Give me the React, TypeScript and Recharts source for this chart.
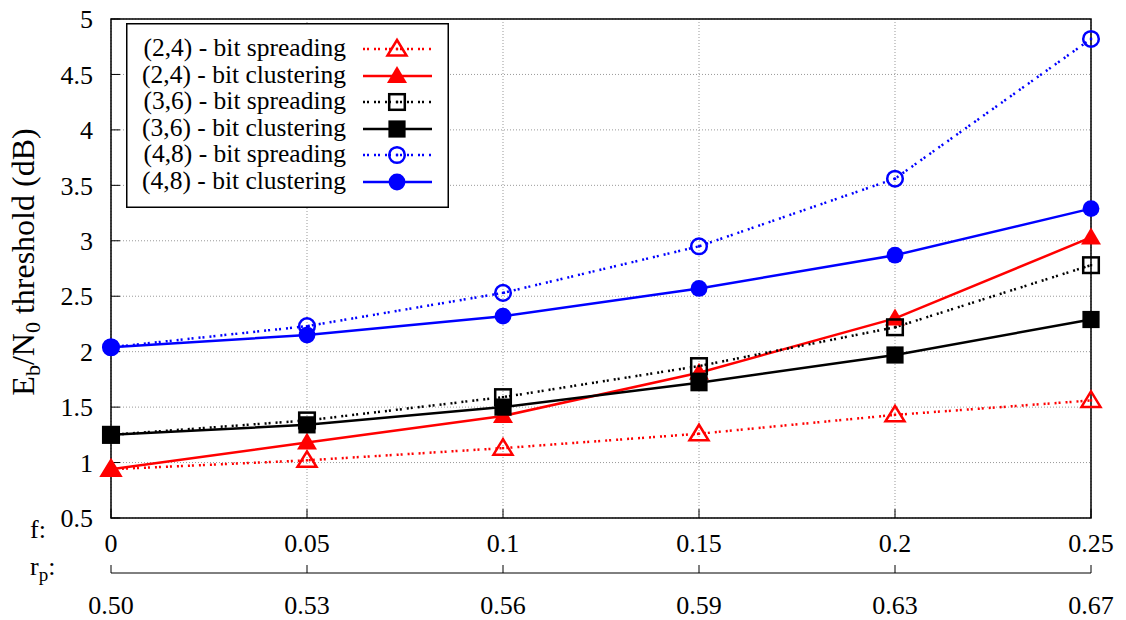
import { CartesianGrid, Label, Line, LineChart, ReferenceArea, XAxis, YAxis } from "recharts";

// ── data ────────────────────────────────────────────────────────────────────

const fValues = [0, 0.05, 0.1, 0.15, 0.2, 0.25];
const rpLabels = ["0.50", "0.53", "0.56", "0.59", "0.63", "0.67"];
const yTicks = [0.5, 1, 1.5, 2, 2.5, 3, 3.5, 4, 4.5, 5];

const spread24 = [0.94, 1.02, 1.13, 1.26, 1.43, 1.56];
const cluster24 = [0.94, 1.18, 1.42, 1.81, 2.3, 3.03];
const spread36 = [1.25, 1.38, 1.59, 1.87, 2.22, 2.78];
const cluster36 = [1.25, 1.34, 1.5, 1.72, 1.97, 2.29];
const spread48 = [2.04, 2.23, 2.53, 2.95, 3.56, 4.82];
const cluster48 = [2.04, 2.15, 2.32, 2.57, 2.87, 3.29];

// ── series ──────────────────────────────────────────────────────────────────

type MarkerKind = "triangle" | "square" | "circle";

interface Series {
  key: string;
  name: string;
  color: string;
  dotted: boolean;
  marker: MarkerKind;
  values: number[];
}

const series: Series[] = [
  { key: "s24", name: "(2,4) - bit spreading", color: "#ff0000", dotted: true, marker: "triangle", values: spread24 },
  { key: "c24", name: "(2,4) - bit clustering", color: "#ff0000", dotted: false, marker: "triangle", values: cluster24 },
  { key: "s36", name: "(3,6) - bit spreading", color: "#000000", dotted: true, marker: "square", values: spread36 },
  { key: "c36", name: "(3,6) - bit clustering", color: "#000000", dotted: false, marker: "square", values: cluster36 },
  { key: "s48", name: "(4,8) - bit spreading", color: "#0000ff", dotted: true, marker: "circle", values: spread48 },
  { key: "c48", name: "(4,8) - bit clustering", color: "#0000ff", dotted: false, marker: "circle", values: cluster48 },
];

const data = fValues.map((f, i) => {
  const row: Record<string, number> = { f };
  series.forEach((s) => (row[s.key] = s.values[i]));
  return row;
});

const FONT = '"Liberation Serif", "Times New Roman", Times, "DejaVu Serif", serif';
const DOTS = "2 2 2 5";
const LINE_W = 2.5;

// ── markers ─────────────────────────────────────────────────────────────────

// open markers are hollow with a tiny centre dot, closed ones are solid
function Marker({ kind, open, color, cx, cy }: { kind: MarkerKind; open: boolean; color: string; cx: number; cy: number }) {
  const fill = open ? "none" : color;
  const stroke = color;
  const sw = open ? LINE_W : 0;
  let shape;
  if (kind === "triangle") {
    const pts = open
      ? `${cx},${cy - 9} ${cx - 9.5},${cy + 6.5} ${cx + 9.5},${cy + 6.5}`
      : `${cx},${cy - 10} ${cx - 10},${cy + 7} ${cx + 10},${cy + 7}`;
    shape = <polygon points={pts} fill={fill} stroke={stroke} strokeWidth={sw} strokeLinejoin="miter" />;
  } else if (kind === "square") {
    const h = open ? 7.8 : 8.6;
    shape = <rect x={cx - h} y={cy - h} width={2 * h} height={2 * h} fill={fill} stroke={stroke} strokeWidth={sw} />;
  } else {
    shape = <circle cx={cx} cy={cy} r={open ? 7.8 : 8.4} fill={fill} stroke={stroke} strokeWidth={sw} />;
  }
  return (
    <g>
      {shape}
      {open && <rect x={cx - 1.2} y={cy - 1.2} width={2.4} height={2.4} fill={color} />}
    </g>
  );
}

function makeDot(s: Series) {
  return (props: { cx?: number; cy?: number; index?: number }) => {
    const { cx = 0, cy = 0, index = 0 } = props;
    return <Marker key={`${s.key}-${index}`} kind={s.marker} open={s.dotted} color={s.color} cx={cx} cy={cy} />;
  };
}

// ── axis titles ─────────────────────────────────────────────────────────────

function YTitle() {
  const x = 34;
  const y = 262;
  return (
    <text transform={`rotate(-90, ${x}, ${y})`} x={x} y={y} textAnchor="middle" style={{ fontFamily: FONT }} fontSize={32} fill="#000">
      E<tspan dy={6} fontSize={22}>b</tspan>
      <tspan dy={-6}>/N</tspan>
      <tspan dy={6} fontSize={22}>0</tspan>
      <tspan dy={-6}> threshold (dB)</tspan>
    </text>
  );
}

function FTitle() {
  return (
    <text x={30} y={538} style={{ fontFamily: FONT }} fontSize={26} fill="#000">
      f:
    </text>
  );
}

function RpTitle() {
  return (
    <text x={30} y={575} style={{ fontFamily: FONT }} fontSize={26} fill="#000">
      r<tspan dy={6} fontSize={19}>p</tspan>
      <tspan dy={-6}>:</tspan>
    </text>
  );
}

// ── legend ──────────────────────────────────────────────────────────────────

function KeyBox() {
  const rowY = [26, 53, 79, 106, 132, 159];
  return (
    <svg width={323} height={185} style={{ position: "absolute", left: 126, top: 23 }}>
      <rect x={0.75} y={0.75} width={321.5} height={183.5} fill="#fff" stroke="#000" strokeWidth={1.5} />
      {series.map((s, i) => (
        <g key={s.key}>
          <text x={220} y={rowY[i] + 7} textAnchor="end" style={{ fontFamily: FONT }} fontSize={25.5} fill="#000">
            {s.name}
          </text>
          <line
            x1={237}
            x2={306}
            y1={rowY[i]}
            y2={rowY[i]}
            stroke={s.color}
            strokeWidth={LINE_W}
            strokeDasharray={s.dotted ? DOTS : undefined}
          />
          <Marker kind={s.marker} open={s.dotted} color={s.color} cx={271} cy={rowY[i]} />
        </g>
      ))}
    </svg>
  );
}

// ── chart ───────────────────────────────────────────────────────────────────

const tickStyle = { style: { fontFamily: FONT }, fontSize: 26, fill: "#000" };

export default function App() {
  return (
    <div style={{ position: "absolute", left: 0, top: 0, width: 1126, height: 620, background: "#fff", fontFamily: FONT }}>
      <LineChart width={1126} height={620} data={data} margin={{ top: 19, right: 35, bottom: 0, left: 0 }}>
        <CartesianGrid xAxisId="f" stroke="#999" strokeDasharray="1 2" strokeWidth={1} />
        <XAxis
          xAxisId="f"
          dataKey="f"
          type="number"
          domain={[0, 0.25]}
          ticks={fValues}
          height={55}
          axisLine={false}
          tickSize={-9}
          tickMargin={25}
          tickLine={{ stroke: "#000" }}
          tick={tickStyle}
          tickFormatter={(v: number) => String(v)}
        >
          <Label content={<FTitle />} />
        </XAxis>
        <XAxis
          xAxisId="rp"
          dataKey="f"
          type="number"
          domain={[0, 0.25]}
          ticks={fValues}
          height={47}
          axisLine={{ stroke: "#000", strokeWidth: 1 }}
          tickSize={-8}
          tickMargin={31}
          tickLine={{ stroke: "#000" }}
          tick={tickStyle}
          tickFormatter={(_v: number, i: number) => rpLabels[i]}
        >
          <Label content={<RpTitle />} />
        </XAxis>
        <XAxis
          xAxisId="top"
          orientation="top"
          dataKey="f"
          type="number"
          domain={[0, 0.25]}
          ticks={fValues}
          height={0}
          axisLine={false}
          tickSize={-9}
          tickLine={{ stroke: "#000" }}
          tickFormatter={() => ""}
        />
        <YAxis
          type="number"
          domain={[0.5, 5]}
          ticks={yTicks}
          width={111}
          axisLine={false}
          tickSize={-9}
          tickMargin={27}
          tickLine={{ stroke: "#000" }}
          tick={tickStyle}
        >
          <Label content={<YTitle />} />
        </YAxis>
        <YAxis
          yAxisId="right"
          orientation="right"
          type="number"
          domain={[0.5, 5]}
          ticks={yTicks}
          width={0}
          axisLine={false}
          tickSize={-9}
          tickLine={{ stroke: "#000" }}
          tickFormatter={() => ""}
        />
        <ReferenceArea xAxisId="f" x1={0} x2={0.25} y1={0.5} y2={5} fill="none" stroke="#000" strokeWidth={1.5} />
        {series.map((s) => (
          <Line
            key={s.key}
            xAxisId="f"
            type="linear"
            dataKey={s.key}
            name={s.name}
            stroke={s.color}
            strokeWidth={LINE_W}
            strokeDasharray={s.dotted ? DOTS : undefined}
            dot={makeDot(s)}
            activeDot={false}
            isAnimationActive={false}
          />
        ))}
      </LineChart>
      <KeyBox />
    </div>
  );
}
